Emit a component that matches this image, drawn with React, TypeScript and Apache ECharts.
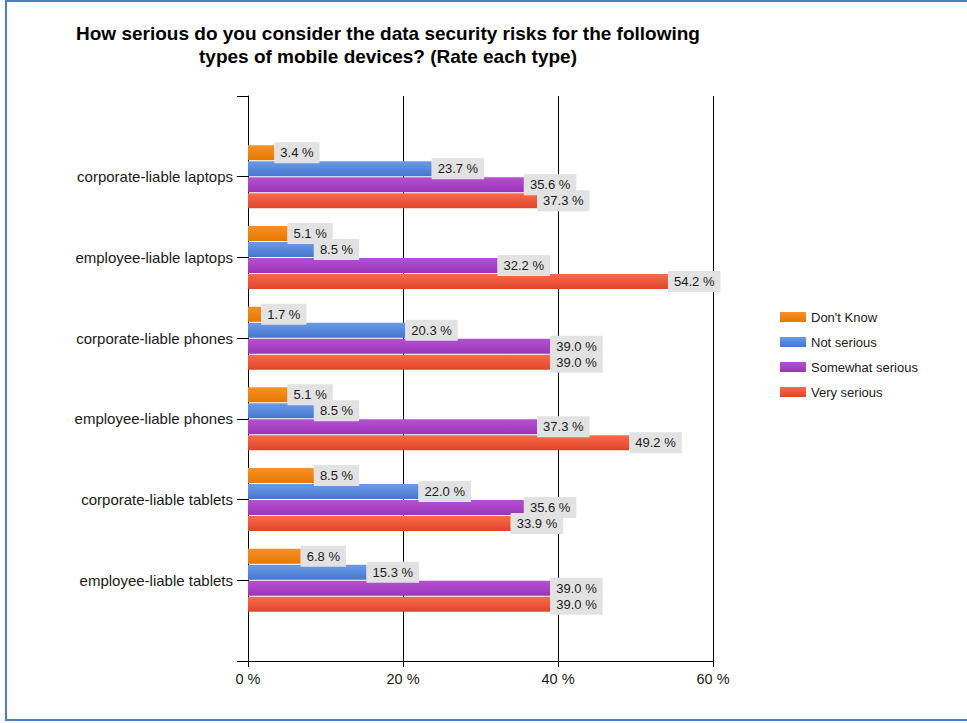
import React, { useEffect, useRef } from "react";
import * as echarts from "echarts";

const categories = [
  "corporate-liable laptops",
  "employee-liable laptops",
  "corporate-liable phones",
  "employee-liable phones",
  "corporate-liable tablets",
  "employee-liable tablets",
];
const seriesNames = ["Don't Know", "Not serious", "Somewhat serious", "Very serious"];
const dontKnow = [3.4, 5.1, 1.7, 5.1, 8.5, 6.8];
const notSerious = [23.7, 8.5, 20.3, 8.5, 22.0, 15.3];
const somewhatSerious = [35.6, 32.2, 39.0, 37.3, 35.6, 39.0];
const verySerious = [37.3, 54.2, 39.0, 49.2, 33.9, 39.0];
const xTicks = [0, 20, 40, 60];
const titleLines = [
  "How serious do you consider the data security risks for the following",
  "types of mobile devices? (Rate each type)",
];

const FONT = "'Liberation Sans', Arial, sans-serif";
const colorStops: [string, string][] = [
  ["#f6922a", "#e67700"],
  ["#6b9be6", "#4576cf"],
  ["#b650d2", "#9a36b6"],
  ["#f76c4b", "#e0442a"],
];

export default function App() {
  const ref = useRef<HTMLDivElement>(null);
  useEffect(() => {
    document.body.style.margin = "0";
    if (!ref.current) return;
    const chart = echarts.init(ref.current, undefined, { renderer: "svg" });
    const yCats = ["", ...categories, ""];
    const allData = [dontKnow, notSerious, somewhatSerious, verySerious];
    const series = allData.map((arr, i) => ({
      name: seriesNames[i],
      type: "bar",
      data: [null, ...arr, null],
      barWidth: 15,
      barGap: "6.7%",
      itemStyle: {
        color: new echarts.graphic.LinearGradient(0, 0, 0, 1, [
          { offset: 0, color: colorStops[i][0] },
          { offset: 1, color: colorStops[i][1] },
        ]),
      },
      label: {
        show: true,
        position: "right",
        distance: 0,
        formatter: (p: any) => p.value.toFixed(1) + " %",
        backgroundColor: "#e2e2e2",
        padding: [3, 6, 3, 6],
        lineHeight: 15,
        color: "#1a1a1a",
        fontSize: 13,
        fontFamily: FONT,
      },
    }));
    chart.setOption({
      animation: false,
      graphic: [
        {
          type: "rect",
          shape: { x: 6, y: 1, width: 1000, height: 719 },
          style: { fill: "none", stroke: "#4a7fc1", lineWidth: 2 },
          silent: true,
        },
        {
          type: "text",
          x: 388,
          y: 22,
          style: {
            text: titleLines.join("\n"),
            font: `bold 19px ${FONT}`,
            fill: "#000",
            align: "center",
            verticalAlign: "top",
            lineHeight: 23,
          },
        },
      ],
      legend: {
        orient: "vertical",
        left: 775,
        top: 305,
        itemWidth: 26,
        itemHeight: 10,
        itemGap: 11,
        icon: "rect",
        data: seriesNames,
        textStyle: { fontSize: 13, fontFamily: FONT, color: "#1a1a1a", lineHeight: 14 },
      },
      grid: { left: 248, right: 254, top: 96, bottom: 62, containLabel: false },
      xAxis: {
        type: "value",
        min: xTicks[0],
        max: xTicks[xTicks.length - 1],
        interval: 20,
        axisLine: { show: true, lineStyle: { color: "#000" } },
        axisTick: { show: true, length: 6, lineStyle: { color: "#000" } },
        splitLine: { show: true, lineStyle: { color: "#000" } },
        axisLabel: {
          formatter: "{value} %",
          margin: 10,
          fontSize: 14.5,
          fontFamily: FONT,
          color: "#1a1a1a",
        },
      },
      yAxis: {
        type: "category",
        data: yCats,
        inverse: true,
        boundaryGap: false,
        axisLine: { show: true, lineStyle: { color: "#000" } },
        axisTick: { show: true, length: 11, lineStyle: { color: "#000" } },
        splitLine: { show: false },
        axisLabel: {
          margin: 15,
          fontSize: 15,
          fontFamily: FONT,
          color: "#1a1a1a",
          interval: 0,
        },
      },
      series,
    });
    return () => chart.dispose();
  }, []);
  return <div ref={ref} style={{ width: 967, height: 723 }} />;
}
